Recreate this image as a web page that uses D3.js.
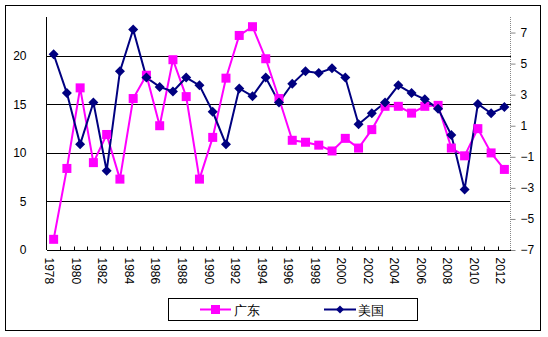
<!DOCTYPE html>
<html>
<head>
<meta charset="utf-8">
<script src="https://cdn.jsdelivr.net/npm/d3@7"></script>
<style>
body{margin:0;background:#fff;}
svg{display:block;}
text{font-family:"Liberation Sans",Arial,sans-serif;}
</style>
</head>
<body>
<svg id="c" width="548" height="337"></svg>
<script>
const years = d3.range(1978, 2013);
const guangdong = [1.1, 8.4, 16.7, 9.0, 11.9, 7.3, 15.6, 18.0, 12.8, 19.6, 15.8, 7.3, 11.6, 17.7, 22.1, 23.0, 19.7, 15.6, 11.3, 11.1, 10.8, 10.2, 11.5, 10.5, 12.4, 14.8, 14.8, 14.1, 14.8, 14.9, 10.5, 9.7, 12.5, 10.0, 8.3];
const usa = [5.6, 3.1, -0.2, 2.5, -1.9, 4.5, 7.2, 4.1, 3.5, 3.2, 4.1, 3.6, 1.9, -0.2, 3.4, 2.9, 4.1, 2.5, 3.7, 4.5, 4.4, 4.7, 4.1, 1.1, 1.8, 2.5, 3.6, 3.1, 2.7, 2.1, 0.4, -3.1, 2.4, 1.8, 2.2];
const leftTicks = [0, 5, 10, 15, 20];
const rightTicks = [-7, -5, -3, -1, 1, 3, 5, 7];
const gridTicks = [5, 10, 15, 20];
const seriesNames = ["广东", "美国"];

const svg = d3.select("#c");
const L = 47, R = 511, T = 17, B = 250;
const x = d3.scaleBand().domain(years).range([L, R]);
const yL = d3.scaleLinear().domain([0, 24]).range([B, T]);
const yR = d3.scaleLinear().domain([-7, 8]).range([B, T]);
const magenta = "#ff00ff", navy = "#000080";

// outer border
svg.append("rect").attr("x", 5.5).attr("y", 5.5).attr("width", 535).attr("height", 325)
  .attr("fill", "none").attr("stroke", "#000").attr("stroke-width", 1);

// gridlines
svg.append("g").selectAll("line").data(gridTicks).join("line")
  .attr("x1", L).attr("x2", R)
  .attr("y1", d => Math.round(yL(d)) + 0.5).attr("y2", d => Math.round(yL(d)) + 0.5)
  .attr("stroke", "#000").attr("stroke-width", 1);

// left axis
const gl = svg.append("g").attr("transform", `translate(${L - 0.5},0)`)
  .call(d3.axisLeft(yL).tickValues(leftTicks).tickSize(0).tickPadding(20));
gl.select(".domain").attr("stroke", "#000").attr("d", `M0,${T}V${B}`);
gl.selectAll("text").attr("font-size", 12).attr("fill", "#000");

// right axis
const gr = svg.append("g").attr("transform", `translate(${R - 0.5},0)`)
  .call(d3.axisRight(yR).tickValues(rightTicks).tickSize(5).tickPadding(5)
    .tickFormat(d => d < 0 ? "\u2212" + Math.abs(d) : d));
gr.select(".domain").attr("stroke", "#888").attr("stroke-dasharray", "1,1").attr("d", `M0,${T}V${B}`);
gr.selectAll(".tick line").attr("stroke", "#888");
gr.selectAll("text").attr("font-size", 12).attr("fill", "#000");

// x axis
const gx = svg.append("g").attr("transform", `translate(0,${B + 0.5})`);
gx.append("line").attr("x1", L).attr("x2", R).attr("stroke", "#000");
gx.selectAll("line.tk").data(years.slice(1)).join("line").attr("class", "tk")
  .attr("x1", d => Math.round(x(d)) + 0.5).attr("x2", d => Math.round(x(d)) + 0.5)
  .attr("y1", 0).attr("y2", -4).attr("stroke", "#000");
gx.selectAll("text").data(years.filter((d, i) => i % 2 === 0)).join("text")
  .attr("transform", d => `translate(${x(d) + x.bandwidth() / 2 - 4},7) rotate(90)`)
  .attr("dy", "0.35em").attr("font-size", 12).attr("fill", "#000")
  .text(d => d);

const cx = d => x(d) + x.bandwidth() / 2;

// Guangdong line
svg.append("path").datum(guangdong)
  .attr("fill", "none").attr("stroke", magenta).attr("stroke-width", 2)
  .attr("d", d3.line().x((d, i) => cx(years[i])).y(d => yL(d)));
// USA line
svg.append("path").datum(usa)
  .attr("fill", "none").attr("stroke", navy).attr("stroke-width", 2)
  .attr("d", d3.line().x((d, i) => cx(years[i])).y(d => yR(d)));

const sq = 9;
svg.append("g").selectAll("rect").data(guangdong).join("rect")
  .attr("x", (d, i) => cx(years[i]) - sq / 2).attr("y", d => yL(d) - sq / 2)
  .attr("width", sq).attr("height", sq).attr("fill", magenta);

const diamond = d3.symbol().type(d3.symbolDiamond2 || d3.symbolSquare).size(60);
svg.append("g").selectAll("path").data(usa).join("path")
  .attr("transform", (d, i) => `translate(${cx(years[i])},${yR(d)}) rotate(45)`)
  .attr("d", d3.symbol().type(d3.symbolSquare).size(50)).attr("fill", navy);

// legend
const lg = svg.append("g");
lg.append("rect").attr("x", 168.5).attr("y", 298.5).attr("width", 249).attr("height", 22)
  .attr("fill", "#fff").attr("stroke", "#000");
lg.append("line").attr("x1", 200).attr("x2", 231).attr("y1", 309.5).attr("y2", 309.5)
  .attr("stroke", magenta).attr("stroke-width", 2);
lg.append("rect").attr("x", 211).attr("y", 305).attr("width", 9).attr("height", 9).attr("fill", magenta);
lg.append("text").attr("x", 234).attr("y", 314.5).attr("font-size", 13)
  .attr("font-family", "'Noto Sans CJK SC',sans-serif").text(seriesNames[0]);
lg.append("line").attr("x1", 324).attr("x2", 356).attr("y1", 309.5).attr("y2", 309.5)
  .attr("stroke", navy).attr("stroke-width", 2);
lg.append("path").attr("transform", "translate(340,309.5) rotate(45)")
  .attr("d", d3.symbol().type(d3.symbolSquare).size(32)).attr("fill", navy);
lg.append("text").attr("x", 358).attr("y", 314.5).attr("font-size", 13)
  .attr("font-family", "'Noto Sans CJK SC',sans-serif").text(seriesNames[1]);
</script>
</body>
</html>
